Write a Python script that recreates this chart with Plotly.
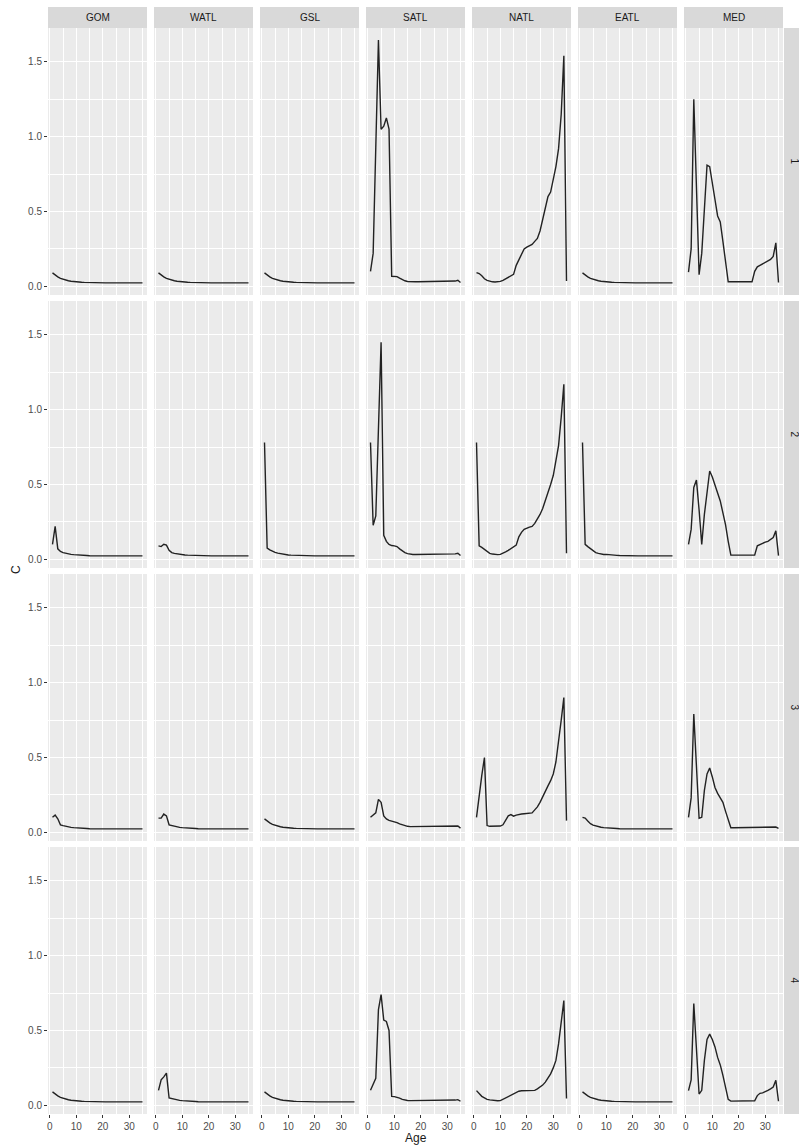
import plotly.graph_objects as go

W, H = 799, 1148

REGIONS = ["GOM", "WATL", "GSL", "SATL", "NATL", "EATL", "MED"]
ROWS = ["1", "2", "3", "4"]
AGES = list(range(1, 36))

X_TICKS = [0, 10, 20, 30]
Y_TICKS = [0.0, 0.5, 1.0, 1.5]
Y_TICK_TEXT = ["0.0", "0.5", "1.0", "1.5"]

# smooth juvenile decline shared by the quiet regions
DECLINE = [0.090, 0.075, 0.063, 0.053, 0.046, 0.041, 0.037, 0.034, 0.031, 0.029,
           0.028, 0.027, 0.026, 0.025, 0.024, 0.024, 0.023, 0.023, 0.023, 0.023,
           0.023, 0.023, 0.023, 0.023, 0.023, 0.023, 0.023, 0.023, 0.023, 0.023,
           0.023, 0.023, 0.023, 0.023, 0.023]

GOM_2 = [0.100, 0.220, 0.070, 0.052, 0.045, 0.040, 0.036, 0.033, 0.031, 0.029,
         0.028, 0.027, 0.026, 0.025, 0.024, 0.024, 0.023, 0.023, 0.023, 0.023,
         0.023, 0.023, 0.023, 0.023, 0.023, 0.023, 0.023, 0.023, 0.023, 0.023,
         0.023, 0.023, 0.023, 0.023, 0.023]
GOM_3 = [0.100, 0.115, 0.090, 0.050, 0.045, 0.040, 0.036, 0.033, 0.031, 0.029,
         0.028, 0.027, 0.026, 0.025, 0.024, 0.024, 0.023, 0.023, 0.023, 0.023,
         0.023, 0.023, 0.023, 0.023, 0.023, 0.023, 0.023, 0.023, 0.023, 0.023,
         0.023, 0.023, 0.023, 0.023, 0.023]

WATL_2 = [0.090, 0.085, 0.100, 0.095, 0.060, 0.045, 0.040, 0.036, 0.033, 0.031,
          0.029, 0.028, 0.027, 0.026, 0.025, 0.024, 0.023, 0.023, 0.023, 0.023,
          0.023, 0.023, 0.023, 0.023, 0.023, 0.023, 0.023, 0.023, 0.023, 0.023,
          0.023, 0.023, 0.023, 0.023, 0.023]
WATL_3 = [0.095, 0.095, 0.122, 0.110, 0.050, 0.045, 0.040, 0.036, 0.033, 0.031,
          0.029, 0.028, 0.027, 0.026, 0.025, 0.024, 0.023, 0.023, 0.023, 0.023,
          0.023, 0.023, 0.023, 0.023, 0.023, 0.023, 0.023, 0.023, 0.023, 0.023,
          0.023, 0.023, 0.023, 0.023, 0.023]
WATL_4 = [0.100, 0.170, 0.190, 0.215, 0.050, 0.045, 0.040, 0.035, 0.033, 0.031,
          0.029, 0.028, 0.027, 0.026, 0.025, 0.024, 0.023, 0.023, 0.023, 0.023,
          0.023, 0.023, 0.023, 0.023, 0.023, 0.023, 0.023, 0.023, 0.023, 0.023,
          0.023, 0.023, 0.023, 0.023, 0.023]

GSL_2 = [0.780, 0.075, 0.063, 0.053, 0.046, 0.041, 0.037, 0.034, 0.031, 0.029,
         0.028, 0.027, 0.026, 0.025, 0.024, 0.024, 0.023, 0.023, 0.023, 0.023,
         0.023, 0.023, 0.023, 0.023, 0.023, 0.023, 0.023, 0.023, 0.023, 0.023,
         0.023, 0.023, 0.023, 0.023, 0.023]

SATL_1 = [0.100, 0.220, 0.930, 1.645, 1.050, 1.070, 1.125, 1.050, 0.067, 0.067,
          0.065, 0.055, 0.045, 0.037, 0.032, 0.030, 0.030, 0.030, 0.030, 0.030,
          0.030, 0.030, 0.030, 0.030, 0.030, 0.030, 0.030, 0.030, 0.030, 0.030,
          0.030, 0.030, 0.035, 0.040, 0.025]
SATL_2 = [0.780, 0.228, 0.290, 0.870, 1.450, 0.160, 0.120, 0.100, 0.092, 0.090,
          0.085, 0.070, 0.055, 0.045, 0.038, 0.034, 0.032, 0.032, 0.032, 0.032,
          0.032, 0.032, 0.032, 0.032, 0.032, 0.032, 0.032, 0.032, 0.032, 0.032,
          0.032, 0.032, 0.036, 0.040, 0.025]
SATL_3 = [0.100, 0.115, 0.130, 0.220, 0.200, 0.110, 0.090, 0.080, 0.076, 0.074,
          0.065, 0.056, 0.050, 0.045, 0.040, 0.038, 0.038, 0.038, 0.038, 0.038,
          0.038, 0.038, 0.038, 0.038, 0.038, 0.038, 0.038, 0.038, 0.038, 0.038,
          0.038, 0.038, 0.040, 0.042, 0.028]
SATL_4 = [0.100, 0.140, 0.180, 0.640, 0.740, 0.570, 0.560, 0.500, 0.060, 0.058,
          0.055, 0.048, 0.040, 0.035, 0.032, 0.031, 0.031, 0.031, 0.031, 0.031,
          0.031, 0.031, 0.031, 0.031, 0.031, 0.031, 0.031, 0.031, 0.031, 0.031,
          0.031, 0.031, 0.035, 0.038, 0.027]

NATL_1 = [0.092, 0.085, 0.070, 0.050, 0.040, 0.033, 0.030, 0.029, 0.030, 0.033,
          0.040, 0.050, 0.058, 0.065, 0.080, 0.140, 0.175, 0.220, 0.250, 0.262,
          0.270, 0.280, 0.300, 0.320, 0.370, 0.440, 0.520, 0.600, 0.630, 0.720,
          0.800, 0.920, 1.150, 1.540, 0.035]
NATL_2 = [0.780, 0.090, 0.080, 0.065, 0.050, 0.040, 0.035, 0.032, 0.031, 0.033,
          0.040, 0.050, 0.060, 0.070, 0.085, 0.095, 0.150, 0.180, 0.200, 0.210,
          0.215, 0.220, 0.240, 0.270, 0.300, 0.340, 0.390, 0.450, 0.500, 0.560,
          0.650, 0.760, 0.950, 1.170, 0.040]
NATL_3 = [0.100, 0.250, 0.380, 0.500, 0.045, 0.040, 0.040, 0.040, 0.040, 0.042,
          0.050, 0.080, 0.110, 0.118, 0.108, 0.115, 0.120, 0.122, 0.124, 0.125,
          0.126, 0.130, 0.150, 0.170, 0.200, 0.240, 0.280, 0.310, 0.345, 0.390,
          0.470, 0.600, 0.750, 0.900, 0.078]
NATL_4 = [0.098, 0.075, 0.060, 0.050, 0.040, 0.036, 0.033, 0.031, 0.030, 0.031,
          0.040, 0.050, 0.060, 0.070, 0.080, 0.088, 0.094, 0.097, 0.098, 0.098,
          0.098, 0.098, 0.100, 0.110, 0.120, 0.135, 0.155, 0.180, 0.210, 0.250,
          0.300, 0.410, 0.550, 0.700, 0.045]

EATL_2 = [0.780, 0.100, 0.085, 0.070, 0.055, 0.045, 0.040, 0.035, 0.032, 0.033,
          0.030, 0.028, 0.027, 0.026, 0.025, 0.024, 0.023, 0.023, 0.023, 0.023,
          0.023, 0.023, 0.023, 0.023, 0.023, 0.023, 0.023, 0.023, 0.023, 0.023,
          0.023, 0.023, 0.023, 0.023, 0.023]
EATL_3 = [0.100, 0.095, 0.075, 0.058, 0.048, 0.042, 0.037, 0.034, 0.031, 0.029,
          0.028, 0.027, 0.026, 0.025, 0.024, 0.024, 0.023, 0.023, 0.023, 0.023,
          0.023, 0.023, 0.023, 0.023, 0.023, 0.023, 0.023, 0.023, 0.023, 0.023,
          0.023, 0.023, 0.023, 0.023, 0.023]

MED_1 = [0.095, 0.250, 1.250, 0.660, 0.078, 0.220, 0.500, 0.810, 0.800, 0.700,
         0.580, 0.470, 0.430, 0.300, 0.170, 0.030, 0.030, 0.030, 0.030, 0.030,
         0.030, 0.030, 0.030, 0.030, 0.030, 0.100, 0.130, 0.140, 0.150, 0.160,
         0.170, 0.180, 0.200, 0.290, 0.025]
MED_2 = [0.100, 0.200, 0.480, 0.530, 0.330, 0.100, 0.300, 0.430, 0.590, 0.550,
         0.500, 0.450, 0.390, 0.310, 0.230, 0.120, 0.028, 0.028, 0.028, 0.028,
         0.028, 0.028, 0.028, 0.028, 0.028, 0.028, 0.090, 0.100, 0.110, 0.115,
         0.120, 0.130, 0.145, 0.190, 0.025]
MED_3 = [0.100, 0.230, 0.790, 0.450, 0.094, 0.100, 0.280, 0.390, 0.430, 0.370,
         0.300, 0.260, 0.230, 0.200, 0.140, 0.080, 0.030, 0.030, 0.030, 0.030,
         0.030, 0.030, 0.030, 0.030, 0.030, 0.030, 0.030, 0.030, 0.030, 0.030,
         0.030, 0.030, 0.032, 0.035, 0.027]
MED_4 = [0.098, 0.170, 0.680, 0.380, 0.075, 0.100, 0.300, 0.440, 0.476, 0.440,
         0.390, 0.320, 0.270, 0.200, 0.120, 0.040, 0.028, 0.028, 0.028, 0.028,
         0.028, 0.028, 0.028, 0.028, 0.028, 0.030, 0.065, 0.080, 0.083, 0.090,
         0.100, 0.110, 0.122, 0.167, 0.027]

SERIES = {
    ("GOM", "1"): DECLINE, ("GOM", "2"): GOM_2, ("GOM", "3"): GOM_3, ("GOM", "4"): DECLINE,
    ("WATL", "1"): DECLINE, ("WATL", "2"): WATL_2, ("WATL", "3"): WATL_3, ("WATL", "4"): WATL_4,
    ("GSL", "1"): DECLINE, ("GSL", "2"): GSL_2, ("GSL", "3"): DECLINE, ("GSL", "4"): DECLINE,
    ("SATL", "1"): SATL_1, ("SATL", "2"): SATL_2, ("SATL", "3"): SATL_3, ("SATL", "4"): SATL_4,
    ("NATL", "1"): NATL_1, ("NATL", "2"): NATL_2, ("NATL", "3"): NATL_3, ("NATL", "4"): NATL_4,
    ("EATL", "1"): DECLINE, ("EATL", "2"): EATL_2, ("EATL", "3"): EATL_3, ("EATL", "4"): DECLINE,
    ("MED", "1"): MED_1, ("MED", "2"): MED_2, ("MED", "3"): MED_3, ("MED", "4"): MED_4,
}

# shared scales with ggplot-style 5% expansion
all_vals = [v for s in SERIES.values() for v in s]
ymin, ymax = min(all_vals), max(all_vals)
ypad = 0.05 * (ymax - ymin)
Y_RANGE = [ymin - ypad, ymax + ypad]
xpad = 0.05 * (max(AGES) - min(AGES))
X_RANGE = [min(AGES) - xpad, max(AGES) + xpad]

# panel geometry in pixels
PANEL_LEFT, PANEL_W, COL_STEP = 48, 99, 106
PANEL_TOP, PANEL_H, ROW_STEP = 28, 267, 273
STRIP_H = 21
STRIP_W = 22

FONT = "Liberation Sans, Arial, Helvetica, sans-serif"
BG = "#EBEBEB"
STRIP_BG = "#D9D9D9"


def px_x(p):
    return p / W


def px_y(p):
    return 1 - p / H


fig = go.Figure()
layout = {}
shapes = []
annotations = []

for r, row in enumerate(ROWS):
    top = PANEL_TOP + r * ROW_STEP
    bottom = top + PANEL_H
    for c, reg in enumerate(REGIONS):
        k = r * len(REGIONS) + c + 1
        left = PANEL_LEFT + c * COL_STEP
        right = left + PANEL_W
        xname = "xaxis" if k == 1 else f"xaxis{k}"
        yname = "yaxis" if k == 1 else f"yaxis{k}"
        xref = "x" if k == 1 else f"x{k}"
        yref = "y" if k == 1 else f"y{k}"

        fig.add_trace(go.Scatter(
            x=AGES, y=SERIES[(reg, row)], mode="lines",
            line=dict(color="#222222", width=1.4),
            xaxis=xref, yaxis=yref, showlegend=False,
            hoverinfo="skip",
        ))

        last_row = r == len(ROWS) - 1
        first_col = c == 0
        layout[xname] = dict(
            domain=[px_x(left), px_x(right)], range=X_RANGE, anchor=yref,
            tickvals=X_TICKS, showgrid=True, gridcolor="white", gridwidth=1.1,
            minor=dict(tickvals=[5, 15, 25, 35], showgrid=True,
                       gridcolor="white", gridwidth=0.5),
            zeroline=False, showline=False,
            showticklabels=last_row, ticks="outside" if last_row else "",
            ticklen=3, tickwidth=1, tickcolor="#333333",
            tickfont=dict(family=FONT, size=10, color="#4d4d4d"),
            fixedrange=True,
        )
        layout[yname] = dict(
            domain=[px_y(bottom), px_y(top)], range=Y_RANGE, anchor=xref,
            tickvals=Y_TICKS, ticktext=Y_TICK_TEXT,
            showgrid=True, gridcolor="white", gridwidth=1.1,
            minor=dict(tickvals=[0.25, 0.75, 1.25], showgrid=True,
                       gridcolor="white", gridwidth=0.5),
            zeroline=False, showline=False,
            showticklabels=first_col, ticks="outside" if first_col else "",
            ticklen=3, tickwidth=1, tickcolor="#333333",
            tickfont=dict(family=FONT, size=10, color="#4d4d4d"),
            fixedrange=True,
        )

        if r == 0:
            shapes.append(dict(type="rect", xref="paper", yref="paper",
                               x0=px_x(left), x1=px_x(right),
                               y0=px_y(top), y1=px_y(top - STRIP_H),
                               fillcolor=STRIP_BG, line=dict(width=0), layer="below"))
            annotations.append(dict(text=reg, xref="paper", yref="paper",
                                    x=px_x((left + right) / 2), y=px_y(top - STRIP_H / 2),
                                    showarrow=False, xanchor="center", yanchor="middle",
                                    font=dict(family=FONT, size=10, color="#1a1a1a")))

    # row strip on the right
    strip_left = PANEL_LEFT + (len(REGIONS) - 1) * COL_STEP + PANEL_W + 1
    shapes.append(dict(type="rect", xref="paper", yref="paper",
                       x0=px_x(strip_left), x1=px_x(strip_left + STRIP_W),
                       y0=px_y(bottom), y1=px_y(top),
                       fillcolor=STRIP_BG, line=dict(width=0), layer="below"))
    annotations.append(dict(text=row, xref="paper", yref="paper",
                            x=px_x(strip_left + STRIP_W / 2 - 1), y=px_y((top + bottom) / 2),
                            showarrow=False, textangle=90,
                            xanchor="center", yanchor="middle",
                            font=dict(family=FONT, size=10, color="#1a1a1a")))

# axis titles
annotations.append(dict(text="Age", xref="paper", yref="paper",
                        x=px_x(PANEL_LEFT + (6 * COL_STEP + PANEL_W) / 2), y=px_y(1138),
                        showarrow=False, xanchor="center", yanchor="middle",
                        font=dict(family=FONT, size=12, color="#1a1a1a")))
annotations.append(dict(text="C", xref="paper", yref="paper",
                        x=px_x(16), y=px_y(570), textangle=-90,
                        showarrow=False, xanchor="center", yanchor="middle",
                        font=dict(family=FONT, size=12, color="#1a1a1a")))

fig.update_layout(
    width=W, height=H,
    margin=dict(l=0, r=0, t=0, b=0),
    paper_bgcolor="white", plot_bgcolor=BG,
    showlegend=False,
    shapes=shapes, annotations=annotations,
    **layout,
)

fig.write_html("out.html", config={"displayModeBar": False})
